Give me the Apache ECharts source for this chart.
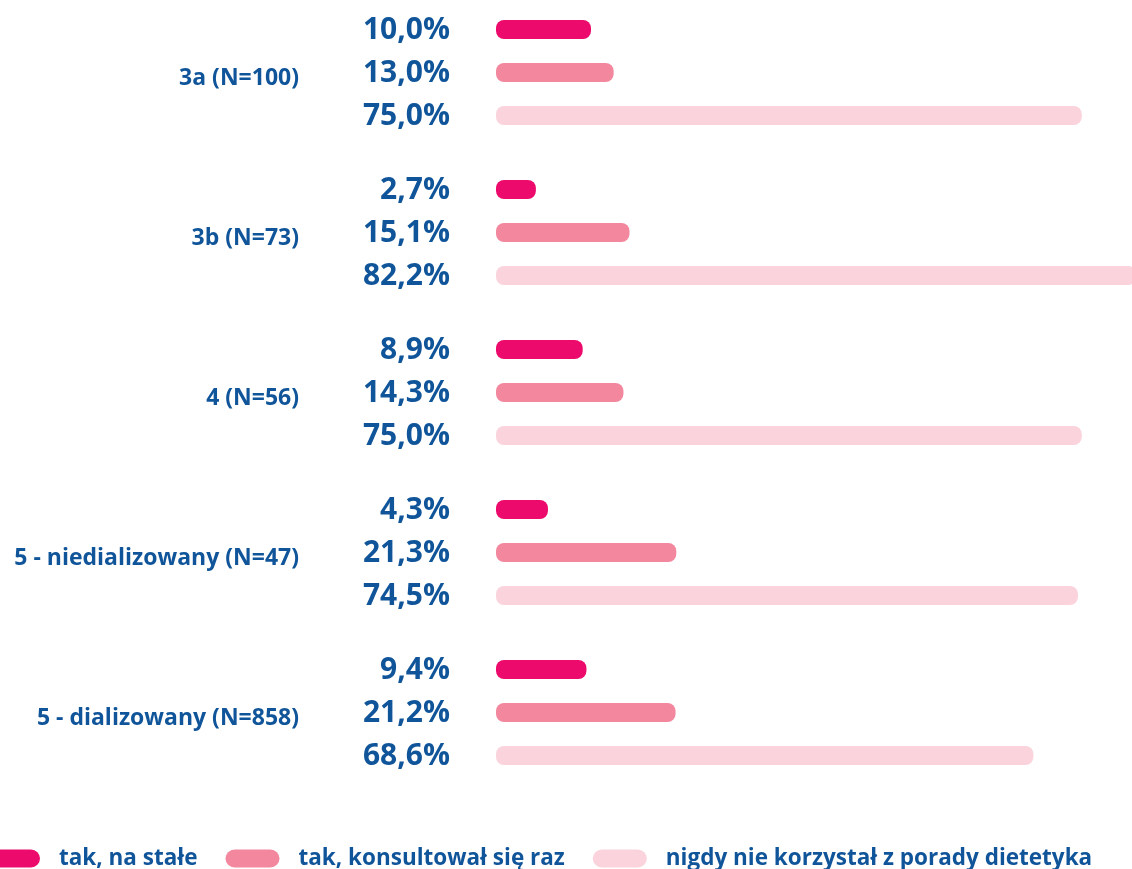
<!DOCTYPE html>
<html>
<head>
<meta charset="utf-8">
<script src="https://cdn.jsdelivr.net/npm/echarts@6/dist/echarts.min.js"></script>
<style>
  html, body { margin: 0; padding: 0; background: #fff; }
  #chart { width: 1132px; height: 869px; }
</style>
</head>
<body>
<div id="chart"></div>
<script>
const categories = ['3a (N=100)', '3b (N=73)', '4 (N=56)', '5 - niedializowany (N=47)', '5 - dializowany (N=858)']
const seriesNames = ['tak, na stałe', 'tak, konsultował się raz', 'nigdy nie korzystał z porady dietetyka']
const staleValues = [10.0, 2.7, 8.9, 4.3, 9.4]
const razValues = [13.0, 15.1, 14.3, 21.3, 21.2]
const nigdyValues = [75.0, 82.2, 75.0, 74.5, 68.6]

const colors = ['#ec0b6c', '#f2879e', '#fad3dc']
const textColor = '#10559a'
const font = '"Open Sans", "Noto Sans", sans-serif'

const myChart = echarts.init(document.getElementById('chart'))

const fmt = v => v.toFixed(1).replace('.', ',') + '%'

// bars are pills a bit longer than the value itself, label sits left of the bar
const makeRender = (offset) => (params, api) => {
    const v = api.value(0)
    const zero = api.coord([0, api.value(1)])
    const end = api.coord([v, api.value(1)])
    const y = zero[1] + offset
    const h = 19
    return {
        type: 'group',
        children: [
            {
                type: 'rect',
                shape: { x: zero[0], y: y - h / 2, width: end[0] - zero[0] + 19.5, height: h, r: 8 },
                style: { fill: api.visual('color') }
            },
            {
                type: 'text',
                x: zero[0] - 46,
                y: y + 1,
                style: {
                    text: fmt(v),
                    fill: textColor,
                    font: 'bold 30px ' + font,
                    align: 'right',
                    verticalAlign: 'middle'
                }
            }
        ]
    }
}

const allValues = [staleValues, razValues, nigdyValues]

const option = {
    animation: false,
    grid: {
        left: 496,
        right: 0,
        top: -7.5,
        height: 800,
        outerBoundsMode: 'none'
    },
    legend: {
        left: -14,
        top: 847,
        padding: 0,
        itemWidth: 54,
        itemHeight: 18,
        itemGap: 28,
        icon: 'path://M9,0H45A9,9,0,0,1,45,18H9A9,9,0,0,1,9,0Z',
        textStyle: {
            color: textColor,
            fontSize: 22.5,
            fontWeight: 'bold',
            fontFamily: font,
            padding: [0, 0, 0, 14]
        },
        data: seriesNames
    },
    xAxis: {
        type: 'value',
        min: 0,
        max: 84.24,
        show: false
    },
    yAxis: {
        type: 'category',
        inverse: true,
        data: categories,
        axisLine: { show: false },
        axisTick: { show: false },
        axisLabel: {
            margin: 197,
            formatter: v => '{c|' + v + '}',
            rich: {
                c: {
                    color: textColor,
                    fontSize: 23,
                    fontWeight: 'bold',
                    fontFamily: font,
                    padding: [11, 0, 0, 0]
                }
            }
        }
    },
    series: seriesNames.map((name, i) => ({
        name: name,
        type: 'custom',
        clip: false,
        itemStyle: { color: colors[i] },
        encode: { x: 0, y: 1 },
        data: allValues[i].map((v, j) => [v, j]),
        renderItem: makeRender((i - 1) * 43)
    }))
}

myChart.setOption(option)
window.addEventListener('resize', () => {
    myChart.resize()
})
</script>
</body>
</html>
